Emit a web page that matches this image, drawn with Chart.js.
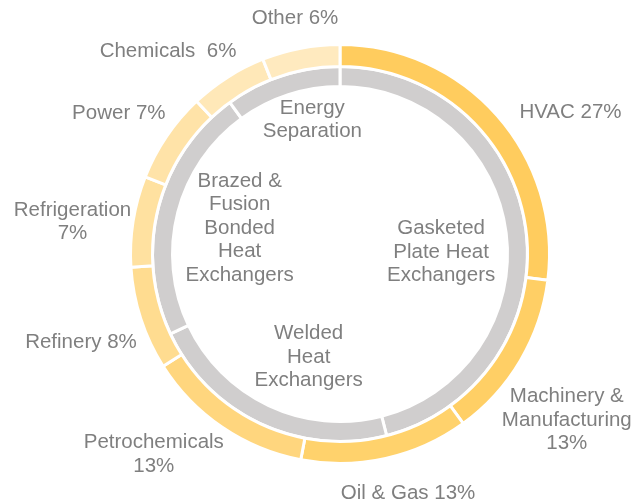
<!DOCTYPE html>
<html>
<head>
<meta charset="utf-8">
<script src="https://cdn.jsdelivr.net/npm/chart.js"></script>
<style>
  html, body { margin: 0; padding: 0; background: #fff; }
  #wrap { width: 644px; height: 500px; }
</style>
</head>
<body>
<div id="wrap"><canvas id="c" width="644" height="500"></canvas></div>
<script>
// 外側リング：業界別シェア
const industries = ['HVAC', 'Machinery &\nManufacturing', 'Oil & Gas', 'Petrochemicals', 'Refinery',
  'Refrigeration', 'Power', 'Chemicals ', 'Other'];
const industryShare = [27, 13, 13, 13, 8, 7, 7, 6, 6];
const industryColors = ['#FFCC5E', '#FFCF65', '#FFD26C', '#FFD67E', '#FFDC90',
  '#FFE1A0', '#FFE3A8', '#FFE8B8', '#FFEABF'];

// 内側リング：製品タイプ
const products = ['Gasketed\nPlate Heat\nExchangers', 'Welded\nHeat\nExchangers',
  'Brazed &\nFusion\nBonded\nHeat\nExchangers', 'Energy\nSeparation'];
const productShare = [46, 22, 22, 10];

// ラベルの微調整（px）
const outerNudge = [[54, 14], [-20, 20], [18, 15], [-48, -3], [-16, 9], [6, 11], [-24, -7], [-48, -7], [-2, -10]];
const innerNudge = [[-3, 11], [20, -6], [0, 0], [14, -6]];

const FONT = '20.5px "Liberation Sans", Arial, sans-serif';
const LINE_H = 23.5;
const TEXT_COLOR = '#7F7F7F';

function outerLabel(name, v) {
  if (name.includes('\n') || name.length > 12) return `${name}\n${v}%`;
  return `${name} ${v}%`;
}

function drawBlock(ctx, text, cx, cy) {
  const lines = text.split('\n');
  const top = cy - (lines.length * LINE_H) / 2;
  lines.forEach((ln, i) => {
    ctx.fillText(ln, cx, top + LINE_H * (i + 0.5));
  });
}

function blockSize(ctx, text) {
  const lines = text.split('\n');
  const w = Math.max(...lines.map(l => ctx.measureText(l).width));
  return { w, h: lines.length * LINE_H };
}

const ringLabels = {
  id: 'ringLabels',
  afterDraw(chart) {
    const ctx = chart.ctx;
    ctx.save();
    ctx.font = FONT;
    ctx.fillStyle = TEXT_COLOR;
    ctx.textAlign = 'center';
    ctx.textBaseline = 'middle';

    // 外側
    chart.getDatasetMeta(0).data.forEach((arc, i) => {
      const p = arc.getProps(['x', 'y', 'startAngle', 'endAngle', 'outerRadius']);
      const a = (p.startAngle + p.endAngle) / 2;
      const dx = Math.cos(a), dy = Math.sin(a);
      const text = outerLabel(industries[i], industryShare[i]);
      const { w, h } = blockSize(ctx, text);
      const r = p.outerRadius + 8;
      const t = Math.min(w / 2 / Math.max(Math.abs(dx), 1e-6), h / 2 / Math.max(Math.abs(dy), 1e-6));
      const cx = p.x + dx * (r + t) + outerNudge[i][0];
      const cy = p.y + dy * (r + t) + outerNudge[i][1];
      drawBlock(ctx, text, cx, cy);
    });

    // 内側
    chart.getDatasetMeta(1).data.forEach((arc, i) => {
      const p = arc.getProps(['x', 'y', 'startAngle', 'endAngle', 'innerRadius']);
      const a = (p.startAngle + p.endAngle) / 2;
      const dx = Math.cos(a), dy = Math.sin(a);
      const text = products[i];
      const { w, h } = blockSize(ctx, text);
      const r = p.innerRadius - 8;
      const t = Math.min(w / 2 / Math.max(Math.abs(dx), 1e-6), h / 2 / Math.max(Math.abs(dy), 1e-6));
      const cx = p.x + dx * (r - t) + innerNudge[i][0];
      const cy = p.y + dy * (r - t) + innerNudge[i][1];
      drawBlock(ctx, text, cx, cy);
    });
    ctx.restore();
  }
};

new Chart(document.getElementById('c'), {
  type: 'doughnut',
  data: {
    labels: industries,
    datasets: [
      {
        data: industryShare,
        backgroundColor: industryColors,
        borderColor: '#ffffff',
        borderWidth: 3,
        weight: 22
      },
      {
        data: productShare,
        backgroundColor: '#D0CECE',
        borderColor: '#ffffff',
        borderWidth: 3,
        weight: 20
      }
    ]
  },
  options: {
    responsive: false,
    animation: false,
    events: [],
    radius: 209.5,
    cutout: '79.95%',
    layout: { padding: { left: 131, right: 95, top: 44, bottom: 36 } },
    plugins: {
      legend: { display: false },
      tooltip: { enabled: false }
    }
  },
  plugins: [ringLabels]
});
</script>
</body>
</html>
